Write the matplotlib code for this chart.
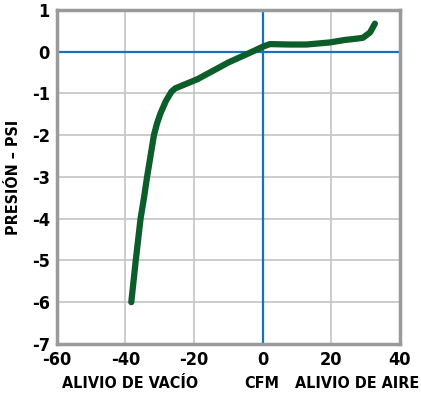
#!/usr/bin/python3
import matplotlib
matplotlib.use('Agg')
import matplotlib.pyplot as plt
import numpy as np

# curve (CFM, PSI)
cfm = [-38.3, -37.0, -35.6, -34.6, -33.7, -32.7, -31.7, -30.8, -29.8, -28.2, -26.6, -25.5,
       -19.0, -10.0, -3.0, 0.1, 2.1, 8.0, 12.8, 19.6, 24.0, 26.3, 29.2, 31.3, 32.7]
psi = [-6.0, -5.0, -4.0, -3.5, -3.0, -2.5, -2.0, -1.72, -1.48, -1.18, -0.96, -0.88,
       -0.66, -0.26, 0.0, 0.12, 0.18, 0.17, 0.17, 0.22, 0.28, 0.3, 0.33, 0.46, 0.67]

xticks = [-60, -40, -20, 0, 20, 40]
yticks = [1, 0, -1, -2, -3, -4, -5, -6, -7]


def main():
    plt.rcParams['font.family'] = ['DejaVu Sans']
    plt.rcParams['font.stretch'] = 'condensed'
    plt.rcParams['axes.unicode_minus'] = False
    fig = plt.figure(figsize=(4.21, 3.94), dpi=100)
    ax = fig.add_axes([0.135, 0.127, 0.815, 0.848])

    ax.set_xlim(-60, 40)
    ax.set_ylim(-7, 1)
    ax.set_xticks(xticks)
    ax.set_yticks(yticks)
    ax.grid(color='#c4c4c4', linewidth=1.2)
    ax.set_axisbelow(True)
    ax.axhline(0, color='#1a6fc0', linewidth=1.6, zorder=2)
    ax.axvline(0, color='#1a6fc0', linewidth=1.6, zorder=2)

    ax.plot(cfm, psi, color='#0b5e2a', linewidth=4.5, solid_capstyle='round',
            solid_joinstyle='round', zorder=3)

    for s in ax.spines.values():
        s.set_color('#9a9a9c')
        s.set_linewidth(2.5)
    ax.tick_params(length=0, pad=5, labelsize=13)
    for lab in ax.get_xticklabels() + ax.get_yticklabels():
        lab.set_fontweight('bold')

    ax.set_ylabel('PRESIÓN – PSI', fontsize=11.5, fontweight='bold', labelpad=8)

    fig.text(130 / 421, 1 - 383 / 394, 'ALIVIO DE VACÍO', ha='center', va='center',
             fontsize=11.5, fontweight='bold')
    fig.text(262 / 421, 1 - 383 / 394, 'CFM', ha='center', va='center',
             fontsize=11.5, fontweight='bold')
    fig.text(357 / 421, 1 - 383 / 394, 'ALIVIO DE AIRE', ha='center', va='center',
             fontsize=11.5, fontweight='bold')

    fig.savefig('out.png', dpi=100)


if __name__ == "__main__":
    main()
